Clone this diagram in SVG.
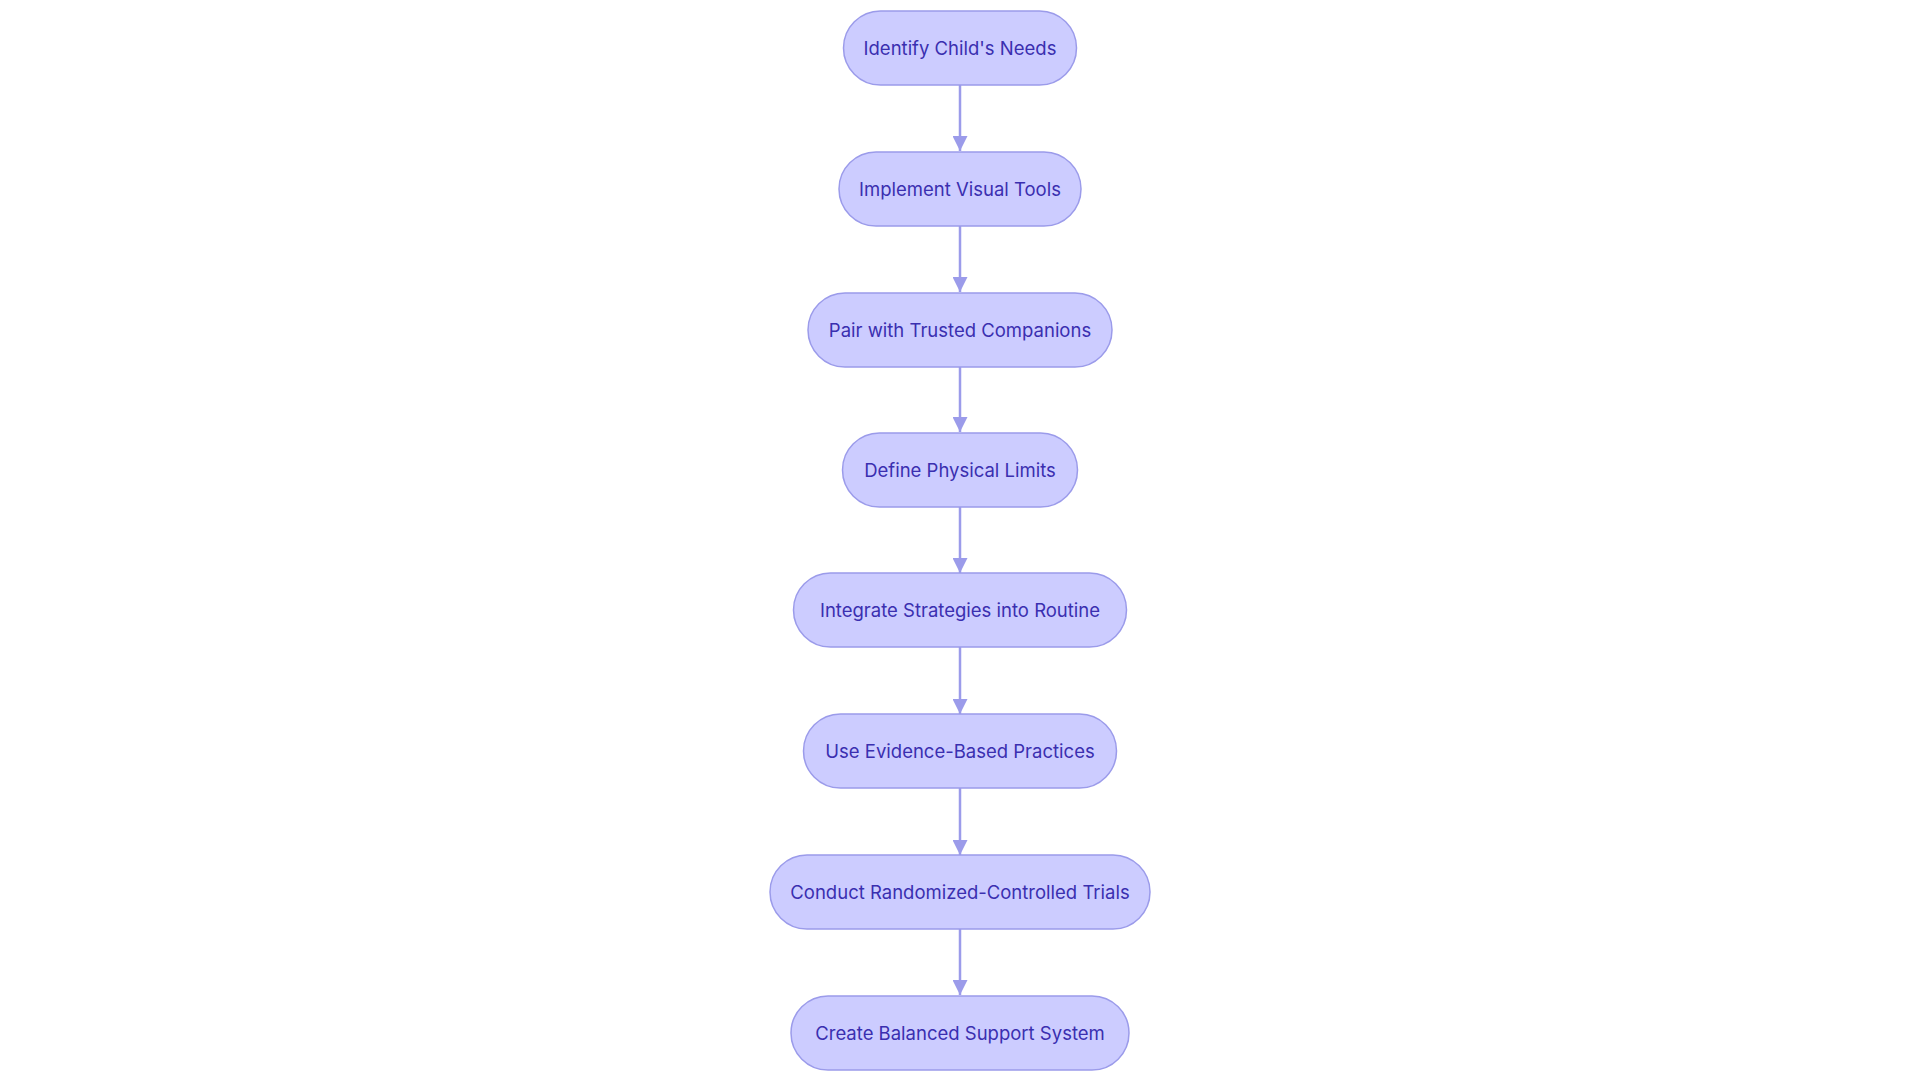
<svg xmlns="http://www.w3.org/2000/svg" width="1920" height="1080" viewBox="0 0 1920 1080">
<style>
.n rect{fill:#ccccff;stroke:#9b9bea;stroke-width:1.5}
.n text{font-family:Inter,"Noto Sans",sans-serif;font-size:18.5px;fill:#3a2fb0;text-anchor:middle;dominant-baseline:central}
.e line{stroke:#9b9bea;stroke-width:2.5}
</style>
<defs><marker id="a" viewBox="0 0 10 10" refX="10" refY="5" markerWidth="6" markerHeight="6" markerUnits="strokeWidth" orient="auto"><path d="M0,0L10,5L0,10z" fill="#9b9bea"/></marker></defs>
<rect width="1920" height="1080" fill="#fff"/>
<g id="connectors" class="e">
<line x1="960" y1="85" x2="960" y2="151" marker-end="url(#a)"/>
<line x1="960" y1="226" x2="960" y2="292" marker-end="url(#a)"/>
<line x1="960" y1="367" x2="960" y2="432" marker-end="url(#a)"/>
<line x1="960" y1="507" x2="960" y2="573" marker-end="url(#a)"/>
<line x1="960" y1="647" x2="960" y2="714" marker-end="url(#a)"/>
<line x1="960" y1="788" x2="960" y2="855" marker-end="url(#a)"/>
<line x1="960" y1="929" x2="960" y2="995" marker-end="url(#a)"/>
</g>
<g id="n1" class="n"><rect x="843.5" y="11" width="233" height="74" rx="37"/><text x="960" y="48">Identify Child's Needs</text></g>
<g id="n2" class="n"><rect x="839" y="152" width="242" height="74" rx="37"/><text x="960" y="189">Implement Visual Tools</text></g>
<g id="n3" class="n"><rect x="808" y="293" width="304" height="74" rx="37"/><text x="960" y="330">Pair with Trusted Companions</text></g>
<g id="n4" class="n"><rect x="842.5" y="433" width="235" height="74" rx="37"/><text x="960" y="470">Define Physical Limits</text></g>
<g id="n5" class="n"><rect x="793.5" y="573" width="333" height="74" rx="37"/><text x="960" y="610">Integrate Strategies into Routine</text></g>
<g id="n6" class="n"><rect x="803.5" y="714" width="313" height="74" rx="37"/><text x="960" y="751">Use Evidence-Based Practices</text></g>
<g id="n7" class="n"><rect x="770" y="855" width="380" height="74" rx="37"/><text x="960" y="892">Conduct Randomized-Controlled Trials</text></g>
<g id="n8" class="n"><rect x="791" y="996" width="338" height="74" rx="37"/><text x="960" y="1033">Create Balanced Support System</text></g>
</svg>
